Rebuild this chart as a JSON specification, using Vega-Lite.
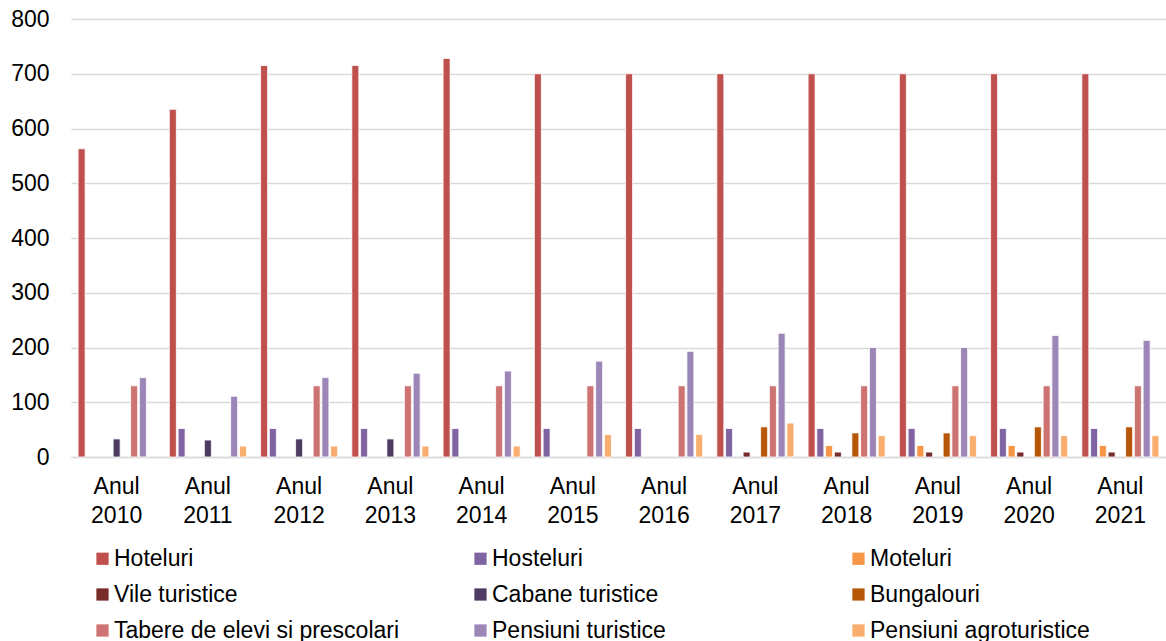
{
  "$schema": "https://vega.github.io/schema/vega-lite/v6.json",
  "autosize": {"type": "none"},
  "width": 1095,
  "height": 438,
  "padding": {"left": 71, "top": 19, "right": 0, "bottom": 184},
  "background": "white",
  "config": {
    "font": "Liberation Sans",
    "view": {"stroke": null}
  },
  "data": {
    "values": [
      {"an": "Anul 2010", "tip": "Hoteluri", "val": 563},
      {"an": "Anul 2010", "tip": "Cabane turistice", "val": 33},
      {"an": "Anul 2010", "tip": "Tabere de elevi si prescolari", "val": 130},
      {"an": "Anul 2010", "tip": "Pensiuni turistice", "val": 145},
      {"an": "Anul 2011", "tip": "Hoteluri", "val": 635},
      {"an": "Anul 2011", "tip": "Hosteluri", "val": 52},
      {"an": "Anul 2011", "tip": "Cabane turistice", "val": 31},
      {"an": "Anul 2011", "tip": "Pensiuni turistice", "val": 111},
      {"an": "Anul 2011", "tip": "Pensiuni agroturistice", "val": 20},
      {"an": "Anul 2012", "tip": "Hoteluri", "val": 715},
      {"an": "Anul 2012", "tip": "Hosteluri", "val": 52},
      {"an": "Anul 2012", "tip": "Cabane turistice", "val": 33},
      {"an": "Anul 2012", "tip": "Tabere de elevi si prescolari", "val": 130},
      {"an": "Anul 2012", "tip": "Pensiuni turistice", "val": 145},
      {"an": "Anul 2012", "tip": "Pensiuni agroturistice", "val": 20},
      {"an": "Anul 2013", "tip": "Hoteluri", "val": 715},
      {"an": "Anul 2013", "tip": "Hosteluri", "val": 52},
      {"an": "Anul 2013", "tip": "Cabane turistice", "val": 33},
      {"an": "Anul 2013", "tip": "Tabere de elevi si prescolari", "val": 130},
      {"an": "Anul 2013", "tip": "Pensiuni turistice", "val": 153},
      {"an": "Anul 2013", "tip": "Pensiuni agroturistice", "val": 20},
      {"an": "Anul 2014", "tip": "Hoteluri", "val": 728},
      {"an": "Anul 2014", "tip": "Hosteluri", "val": 52},
      {"an": "Anul 2014", "tip": "Tabere de elevi si prescolari", "val": 130},
      {"an": "Anul 2014", "tip": "Pensiuni turistice", "val": 157},
      {"an": "Anul 2014", "tip": "Pensiuni agroturistice", "val": 20},
      {"an": "Anul 2015", "tip": "Hoteluri", "val": 700},
      {"an": "Anul 2015", "tip": "Hosteluri", "val": 52},
      {"an": "Anul 2015", "tip": "Tabere de elevi si prescolari", "val": 130},
      {"an": "Anul 2015", "tip": "Pensiuni turistice", "val": 175},
      {"an": "Anul 2015", "tip": "Pensiuni agroturistice", "val": 41},
      {"an": "Anul 2016", "tip": "Hoteluri", "val": 700},
      {"an": "Anul 2016", "tip": "Hosteluri", "val": 52},
      {"an": "Anul 2016", "tip": "Tabere de elevi si prescolari", "val": 130},
      {"an": "Anul 2016", "tip": "Pensiuni turistice", "val": 193},
      {"an": "Anul 2016", "tip": "Pensiuni agroturistice", "val": 41},
      {"an": "Anul 2017", "tip": "Hoteluri", "val": 700},
      {"an": "Anul 2017", "tip": "Hosteluri", "val": 52},
      {"an": "Anul 2017", "tip": "Vile turistice", "val": 9},
      {"an": "Anul 2017", "tip": "Bungalouri", "val": 55},
      {"an": "Anul 2017", "tip": "Tabere de elevi si prescolari", "val": 130},
      {"an": "Anul 2017", "tip": "Pensiuni turistice", "val": 226},
      {"an": "Anul 2017", "tip": "Pensiuni agroturistice", "val": 62},
      {"an": "Anul 2018", "tip": "Hoteluri", "val": 700},
      {"an": "Anul 2018", "tip": "Hosteluri", "val": 52},
      {"an": "Anul 2018", "tip": "Moteluri", "val": 21},
      {"an": "Anul 2018", "tip": "Vile turistice", "val": 9},
      {"an": "Anul 2018", "tip": "Bungalouri", "val": 44},
      {"an": "Anul 2018", "tip": "Tabere de elevi si prescolari", "val": 130},
      {"an": "Anul 2018", "tip": "Pensiuni turistice", "val": 200},
      {"an": "Anul 2018", "tip": "Pensiuni agroturistice", "val": 39},
      {"an": "Anul 2019", "tip": "Hoteluri", "val": 700},
      {"an": "Anul 2019", "tip": "Hosteluri", "val": 52},
      {"an": "Anul 2019", "tip": "Moteluri", "val": 21},
      {"an": "Anul 2019", "tip": "Vile turistice", "val": 9},
      {"an": "Anul 2019", "tip": "Bungalouri", "val": 44},
      {"an": "Anul 2019", "tip": "Tabere de elevi si prescolari", "val": 130},
      {"an": "Anul 2019", "tip": "Pensiuni turistice", "val": 200},
      {"an": "Anul 2019", "tip": "Pensiuni agroturistice", "val": 39},
      {"an": "Anul 2020", "tip": "Hoteluri", "val": 700},
      {"an": "Anul 2020", "tip": "Hosteluri", "val": 52},
      {"an": "Anul 2020", "tip": "Moteluri", "val": 21},
      {"an": "Anul 2020", "tip": "Vile turistice", "val": 9},
      {"an": "Anul 2020", "tip": "Bungalouri", "val": 55},
      {"an": "Anul 2020", "tip": "Tabere de elevi si prescolari", "val": 130},
      {"an": "Anul 2020", "tip": "Pensiuni turistice", "val": 222},
      {"an": "Anul 2020", "tip": "Pensiuni agroturistice", "val": 39},
      {"an": "Anul 2021", "tip": "Hoteluri", "val": 700},
      {"an": "Anul 2021", "tip": "Hosteluri", "val": 52},
      {"an": "Anul 2021", "tip": "Moteluri", "val": 21},
      {"an": "Anul 2021", "tip": "Vile turistice", "val": 9},
      {"an": "Anul 2021", "tip": "Bungalouri", "val": 55},
      {"an": "Anul 2021", "tip": "Tabere de elevi si prescolari", "val": 130},
      {"an": "Anul 2021", "tip": "Pensiuni turistice", "val": 213},
      {"an": "Anul 2021", "tip": "Pensiuni agroturistice", "val": 39}
    ]
  },
  "mark": {"type": "bar", "stroke": "white", "strokeWidth": 0.8},
  "encoding": {
    "x": {
      "field": "an",
      "type": "nominal",
      "sort": null,
      "scale": {"paddingInner": 0, "paddingOuter": 0},
      "axis": {
        "title": null,
        "labelAngle": 0,
        "labelExpr": "split(datum.label, ' ')",
        "labelFontSize": 23,
        "labelColor": "#000000",
        "labelLineHeight": 29,
        "labelPadding": 18,
        "labelBaseline": "top",
        "ticks": false,
        "domainColor": "#D9D9D9",
        "domainWidth": 1.5,
        "grid": false
      }
    },
    "xOffset": {
      "field": "tip",
      "type": "nominal",
      "sort": ["Hoteluri", "Hosteluri", "Moteluri", "Vile turistice", "Cabane turistice", "Bungalouri", "Tabere de elevi si prescolari", "Pensiuni turistice", "Pensiuni agroturistice"],
      "scale": {"domain": ["Hoteluri", "Hosteluri", "Moteluri", "Vile turistice", "Cabane turistice", "Bungalouri", "Tabere de elevi si prescolari", "Pensiuni turistice", "Pensiuni agroturistice"], "paddingInner": 0.2, "paddingOuter": 0.81}
    },
    "y": {
      "field": "val",
      "type": "quantitative",
      "scale": {"domain": [0, 800]},
      "axis": {
        "title": null,
        "values": [0, 100, 200, 300, 400, 500, 600, 700, 800],
        "labelFontSize": 23,
        "labelColor": "#000000",
        "labelPadding": 22,
        "ticks": false,
        "domain": false,
        "gridColor": "#D9D9D9",
        "gridWidth": 1.5
      }
    },
    "color": {
      "field": "tip",
      "type": "nominal",
      "sort": ["Hoteluri", "Hosteluri", "Moteluri", "Vile turistice", "Cabane turistice", "Bungalouri", "Tabere de elevi si prescolari", "Pensiuni turistice", "Pensiuni agroturistice"],
      "scale": {
        "domain": ["Hoteluri", "Hosteluri", "Moteluri", "Vile turistice", "Cabane turistice", "Bungalouri", "Tabere de elevi si prescolari", "Pensiuni turistice", "Pensiuni agroturistice"],
        "range": ["#C0504D", "#8064A2", "#F79646", "#772C2A", "#4D3B62", "#B65708", "#CD7371", "#9C86B8", "#F9AD6E"]
      },
      "legend": {
        "title": null,
        "orient": "none",
        "direction": "horizontal",
        "legendX": 20,
        "legendY": 528,
        "columns": 3,
        "gridAlign": "all",
        "columnPadding": 69,
        "rowPadding": 12,
        "padding": 0,
        "symbolType": "square",
        "symbolSize": 150,
        "symbolStrokeWidth": 0,
        "symbolOffset": 0,
        "labelOffset": 0,
        "labelFontSize": 23,
        "labelColor": "#000000",
        "labelLimit": 400
      }
    }
  }
}
